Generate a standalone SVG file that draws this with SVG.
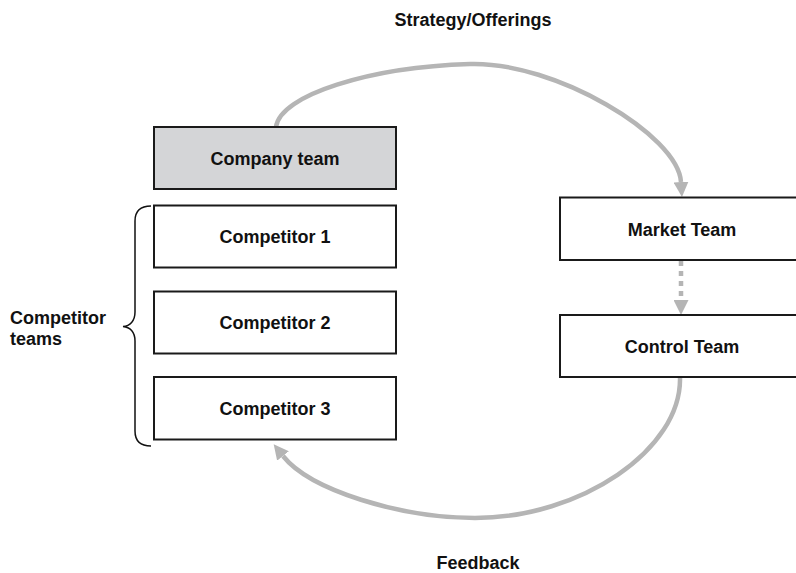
<svg xmlns="http://www.w3.org/2000/svg" width="796" height="573" viewBox="0 0 796 573">
  <style>
    text { font-family: "Liberation Sans", Arial, sans-serif; font-weight: bold; font-size: 18px; fill: #111; }
    .box { fill: #ffffff; stroke: #1a1a1a; stroke-width: 2; }
    .shaded { fill: #d4d5d7; }
    .flow { fill: none; stroke: #b5b5b5; stroke-width: 4.5; }
    .dotted { stroke-dasharray: 5 5; }
    .brace { fill: none; stroke: #111; stroke-width: 1.5; }
  </style>
  <defs>
    <marker id="arrow" viewBox="0 0 15 15" refX="0" refY="7.5" markerWidth="15" markerHeight="15" markerUnits="userSpaceOnUse" orient="auto">
      <path d="M0,0 L15,7.5 L0,15 Z" fill="#b5b5b5"/>
    </marker>
  </defs>

  <rect width="796" height="573" fill="#ffffff"/>

  <!-- connectors -->
  <g id="connectors">
    <path class="flow" d="M276,127 C280,95 370,67 470,64 C555,61.5 678,135 681,182" marker-end="url(#arrow)"/>
    <line class="flow dotted" x1="681" y1="261" x2="681" y2="300" marker-end="url(#arrow)"/>
    <path class="flow" d="M680,377 C682,450 580,518 475,518 C400,518 310,490 283,456" marker-end="url(#arrow)"/>
  </g>

  <!-- nodes -->
  <g id="company-team">
    <rect class="box shaded" x="154" y="127" width="242" height="62"/>
    <text x="275" y="164.5" text-anchor="middle">Company team</text>
  </g>
  <g id="competitor-1">
    <rect class="box" x="154" y="205.5" width="242" height="62"/>
    <text x="275" y="243" text-anchor="middle">Competitor 1</text>
  </g>
  <g id="competitor-2">
    <rect class="box" x="154" y="291.5" width="242" height="62"/>
    <text x="275" y="329" text-anchor="middle">Competitor 2</text>
  </g>
  <g id="competitor-3">
    <rect class="box" x="154" y="377" width="242" height="62.5"/>
    <text x="275" y="414.5" text-anchor="middle">Competitor 3</text>
  </g>
  <g id="market-team">
    <rect class="box" x="560" y="197.5" width="250" height="62.5"/>
    <text x="682" y="235.5" text-anchor="middle">Market Team</text>
  </g>
  <g id="control-team">
    <rect class="box" x="560" y="315" width="250" height="62"/>
    <text x="682" y="352.5" text-anchor="middle">Control Team</text>
  </g>

  <!-- grouping brace and labels -->
  <g id="competitor-teams">
    <path class="brace" d="M151,206 C141,206 135,211 135,221 L135,312 C135,321 130,326 123,326.5 C130,327 135,332 135,341 L135,431 C135,441 141,446 151,446"/>
    <text x="10" y="324">Competitor</text>
    <text x="10" y="345">teams</text>
  </g>
  <text x="473" y="25.5" text-anchor="middle">Strategy/Offerings</text>
  <text x="478" y="569" text-anchor="middle">Feedback</text>
</svg>
